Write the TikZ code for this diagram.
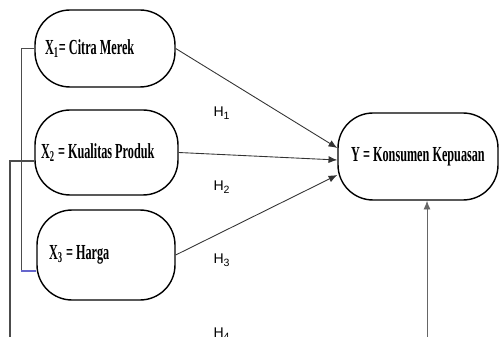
\documentclass[tikz,border=0pt]{standalone}
\usepackage{fontspec}
\usetikzlibrary{arrows.meta,positioning}
\newfontfamily\boxfont[BoldFont={Liberation Serif Bold}, BoldFeatures={FakeStretch=0.57}]{Liberation Serif}
\newfontfamily\hfont{Liberation Sans}

\begin{document}
\begin{tikzpicture}[x=0.02cm, y=-0.02cm,
    var/.style={draw, line width=0.8pt, rounded corners=0.7cm, inner xsep=0.2cm,
      align=flush left, font=\boxfont\bfseries\fontsize{12.2}{14}\selectfont},
    hyp/.style={font=\hfont\fontsize{8}{10}\selectfont},
    arr/.style={-{Latex[length=5pt,width=4pt]}, line width=0.5pt, black!80}]
    \useasboundingbox (0,0) rectangle (499,337);
    \clip (0,0) rectangle (499,337);
    \node[var, minimum width=2.8cm, minimum height=1.54cm, text width=2.4cm] (x1) at (105,48.5) {X\textsubscript{1}= Citra Merek};
    \node[var, minimum width=2.86cm, minimum height=1.7cm, inner xsep=0.12cm, text width=2.62cm] (x2) at (106.5,152.5) {X\textsubscript{2} = Kualitas Produk};
    \node[var, minimum width=2.76cm, minimum height=1.8cm, inner xsep=0.24cm, text width=2.28cm] (x3) at (106,255) {X\textsubscript{3} = Harga};
    \node[var, minimum width=3.2cm, minimum height=1.74cm, align=center] (y) at (418,156.5) {Y = Konsumen Kepuasan};
    \node[hyp] (h1) at (222,113) {H\textsubscript{1}};
    \node[hyp] (h2) at (222,187) {H\textsubscript{2}};
    \node[hyp] (h3) at (222,260) {H\textsubscript{3}};
    \node[hyp] (h4) at (222,334) {H\textsubscript{4}};
    \draw[arr] (x1.east) -- ([yshift=0.17cm]y.west);
    \draw[arr] (x2.east) -- ([yshift=-0.07cm]y.west);
    \draw[arr] (x3.east) -- ([yshift=-0.37cm]y.west);
    % lines on the left
    \coordinate (c3) at ([yshift=-0.32cm]x3.west);
    \coordinate (c1) at ([xshift=-0.3cm]c3);
    \draw[black!70, line width=0.6pt] (x1.west) -| (c1);
    \draw[blue!50!gray!80, line width=0.6pt] (c1) -- (c3);
    \coordinate (b2) at (10,345);
    \draw[black!70, line width=0.6pt] ([yshift=-0.17cm]x2.west) -| (b2);
    \coordinate (b4) at (427,345);
    \draw[arr, black!60] (b4) -- (b4 |- y.south);
\end{tikzpicture}
\end{document}
